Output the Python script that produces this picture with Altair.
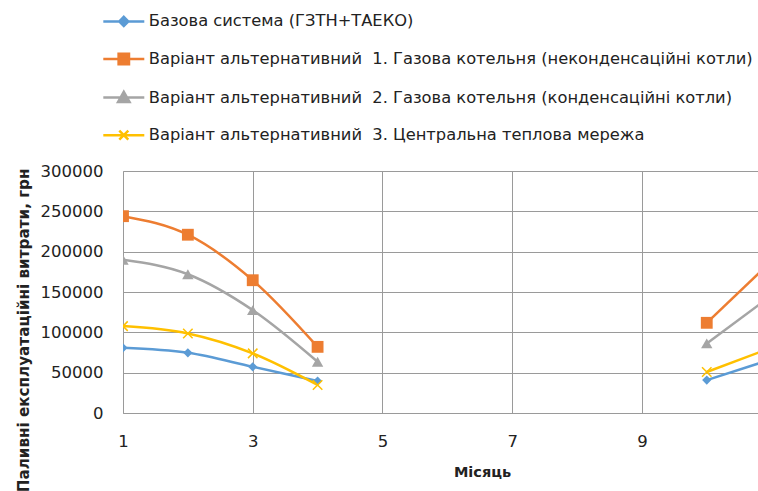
import altair as alt
import pandas as pd

# Months with data (heating season: Jan–Apr and Oct–Nov shown)
months = [1, 2, 3, 4, 10, 11]
segment = ["spring", "spring", "spring", "spring", "autumn", "autumn"]

series_names = [
    "Базова система (ГЗТН+ТАЕКО)",
    "Варіант альтернативний\u00a0 1. Газова котельня (неконденсаційні котли)",
    "Варіант альтернативний\u00a0 2. Газова котельня (конденсаційні котли)",
    "Варіант альтернативний\u00a0 3. Центральна теплова мережа",
]

# Fuel operating costs, UAH
base_system = [80800, 74600, 57300, 39600, 40800, 66600]
alt1_noncondensing = [244000, 221000, 164600, 82000, 111800, 188500]
alt2_condensing = [190000, 172000, 127500, 63500, 86300, 145800]
alt3_district = [107700, 98600, 73900, 34700, 50800, 81000]

series_values = [base_system, alt1_noncondensing, alt2_condensing, alt3_district]
colors = ["#5b9bd5", "#ed7d31", "#a5a5a5", "#ffc000"]

y_ticks = [0, 50000, 100000, 150000, 200000, 250000, 300000]
x_ticks = [1, 3, 5, 7, 9]

rows = []
for name, vals in zip(series_names, series_values):
    for m, seg, v in zip(months, segment, vals):
        rows.append({"series": name, "month": m, "segment": seg, "value": v})
df = pd.DataFrame(rows)

# Marker styles for plotted points
x_cross = "M-1,-1L1,1M-1,1L1,-1"
marker_styles = [
    dict(shape="diamond", size=85, filled=True),
    dict(shape="square", size=140, filled=True),
    dict(shape="triangle-up", size=130, filled=True),
    dict(shape=x_cross, size=90, filled=False, strokeWidth=1.5),
]

# Legend glyphs: a line stub with the series marker in the middle
legend_paths = [
    "M-1.5,0H1.5M0,-0.33L0.33,0L0,0.33L-0.33,0Z",
    "M-1.5,0H1.5M-0.38,-0.38H0.38V0.38H-0.38Z",
    "M-1.5,0H1.5M0,-0.42L0.42,0.33H-0.42Z",
    "M-1.5,0H1.5M-0.33,-0.33L0.33,0.33M-0.33,0.33L0.33,-0.33",
]

x_enc = alt.X(
    "month:Q",
    scale=alt.Scale(domain=[1, 10.79], nice=False, zero=False),
    axis=alt.Axis(
        values=x_ticks, format="d", title="Місяць", labelFlush=False,
        titleX=359, titleY=59, titleBaseline="middle", titleAnchor=None,
        titleFontWeight="bold", titleFontSize=14.5,
        labelPadding=20, ticks=False, grid=True,
    ),
)
y_enc = alt.Y(
    "value:Q",
    scale=alt.Scale(domain=[0, 300000], nice=False),
    axis=alt.Axis(
        values=y_ticks, format="d",
        title="Паливні експлуатаційні витрати, грн",
        titleAngle=270, titleAlign="right", titleBaseline="middle",
        titleX=-100, titleY=-3, titleFontWeight="bold", titleFontSize=15.2,
        labelPadding=20, ticks=False, grid=True,
    ),
)

base = alt.Chart(df)
layers = []
for name, color, style in zip(series_names, colors, marker_styles):
    sub = base.transform_filter(alt.FieldEqualPredicate(field="series", equal=name))
    layers.append(
        sub.mark_line(color=color, strokeWidth=2.5, interpolate="monotone", clip=True)
        .encode(x=x_enc, y=y_enc, detail="segment:N")
    )
for name, color, style in zip(series_names, colors, marker_styles):
    sub = base.transform_filter(alt.FieldEqualPredicate(field="series", equal=name))
    layers.append(
        sub.mark_point(color=color, opacity=1, clip=True, **style)
        .encode(x=x_enc, y=y_enc)
    )

legend = alt.Legend(
    title=None, orient="none", legendX=-14.2, legendY=-164.6,
    symbolSize=747, symbolStrokeWidth=2.5, symbolOpacity=1,
    labelOffset=10, rowPadding=12.6, padding=0,
    labelFontSize=16.3, labelFont="DejaVu Sans", labelColor="#222222",
    labelLimit=1000,
)
legend_layer = base.transform_filter(alt.datum.month < 0).mark_point(
    filled=True, strokeWidth=2.5
).encode(
    x=x_enc, y=y_enc,
    color=alt.Color("series:N", scale=alt.Scale(domain=series_names, range=colors), legend=legend),
    shape=alt.Shape("series:N", scale=alt.Scale(domain=series_names, range=legend_paths), legend=legend),
    stroke=alt.Stroke("series:N", scale=alt.Scale(domain=series_names, range=colors), legend=legend),
)
layers.append(legend_layer)

chart = (
    alt.layer(*layers)
    .properties(
        width=635, height=242,
        autosize=alt.AutoSizeParams(type="none"),
        padding={"left": 123, "top": 171, "right": 0, "bottom": 78},
    )
    .configure_view(stroke=None)
    .configure_axis(
        labelFont="DejaVu Sans", labelFontSize=16.5, labelColor="#222222",
        titleFont="DejaVu Sans", titleColor="#222222",
        gridColor="#9a9a9a", gridWidth=1, domainColor="#9a9a9a", domainWidth=1,
    )
)

chart.save("out.html", embed_options={"renderer": "svg", "actions": False})
